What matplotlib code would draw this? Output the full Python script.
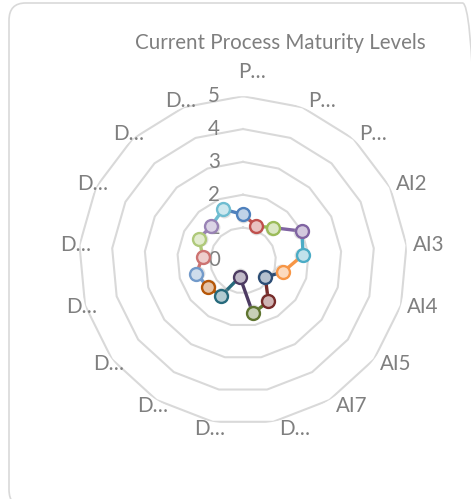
import numpy as np
import matplotlib.pyplot as plt
from matplotlib.patches import FancyBboxPatch
from matplotlib.colors import to_rgb

# =======================
# Data
# =======================
title = 'Current Process Maturity Levels'
categories = ['P…', 'P…', 'P…', 'AI2', 'AI3', 'AI4', 'AI5', 'AI7',
              'D…', 'D…', 'D…', 'D…', 'D…', 'D…', 'D…', 'D…', 'D…']
levels = [1.4, 1.12, 1.35, 2.0, 1.84, 1.27, 0.85, 1.47, 1.64,
          0.51, 1.27, 1.34, 1.48, 1.23, 1.49, 1.43, 1.67]
rings = [0, 1, 2, 3, 4, 5]

# Excel 2010 "vary colors by point" palette
point_colors = ['#4F81BD', '#C0504D', '#9BBB59', '#8064A2', '#4BACC6', '#F79646',
                '#2C4D75', '#772C2A', '#5F7530', '#4D3B62', '#276A7C', '#B65708',
                '#729ACA', '#CD7371', '#AFC97A', '#9983B5', '#6FBDD1']

text_color = '#7F7F7F'
grid_color = '#D9D9D9'
plt.rcParams['font.family'] = ['Lato', 'DejaVu Sans']

W, H = 471, 499
fig = plt.figure(figsize=(W / 100, H / 100), dpi=100)

# chart area border (top edge 3px below the image top, bottom/right run off the image)
border = FancyBboxPatch((9 / W, -8 / H), 470 / W, (H - 3 + 8) / H,
                        boxstyle='round,pad=0,rounding_size=0.035',
                        transform=fig.transFigure, facecolor='none',
                        edgecolor='#D9D9D9', linewidth=1.2, clip_on=False,
                        zorder=-1)
fig.patches.append(border)

fig.text(280 / W, 1 - 43 / H, title, ha='center', va='center',
         fontsize=14.8, color=text_color)

# =======================
# Radar axes
# =======================
cx, cy, R = 243, 260.4, 164.2
ax = fig.add_axes([(cx - R) / W, (H - cy - R) / H, 2 * R / W, 2 * R / H],
                  projection='polar')
ax.set_theta_offset(np.pi / 2)
ax.set_theta_direction(-1)
ax.set_ylim(0, 5)
ax.grid(False)
ax.spines['polar'].set_visible(False)
ax.set_xticks([])
ax.set_yticks([])
ax.patch.set_alpha(0)

n = len(categories)
angles = np.arange(n) * 2 * np.pi / n
closed = np.append(angles, angles[0])

for v in rings[1:]:
    ax.plot(closed, [v] * (n + 1), color=grid_color, lw=1.5, zorder=1)

for v in rings:
    ax.annotate(str(v), xy=(0, v), xytext=(-23, 0), textcoords='offset pixels',
                ha='right', va='center', fontsize=14.8, color=text_color,
                annotation_clip=False)

for i, lab in enumerate(categories):
    s, c = np.sin(angles[i]), np.cos(angles[i])
    if s > 0.1:
        dx = 6
    elif s > -0.1:
        dx = -5
    else:
        dx = -19
    dy = 7 * c + (17 if i == 0 else 0)
    ax.annotate(lab, xy=(angles[i], 5), xytext=(dx, dy), textcoords='offset pixels',
                ha='left', va='center', fontsize=14.8, color=text_color,
                annotation_clip=False)

# segments: each segment takes the colour of the point it leads into
for i in range(n):
    j = i - 1
    ax.plot([angles[j], angles[i]], [levels[j], levels[i]],
            color=point_colors[i], lw=2.4, zorder=3, solid_capstyle='round')

for i in range(n):
    col = np.array(to_rgb(point_colors[i]))
    fill = col + (1 - col) * 0.65
    ax.plot(angles[i], levels[i] - 0.06, 'o', ms=10, color='#AAAAAA', alpha=0.35,
            mec='none', zorder=4)
    ax.plot(angles[i], levels[i], 'o', ms=9.3, mfc=fill, mec=point_colors[i],
            mew=1.7, zorder=5)

fig.savefig('out.png', dpi=100)
